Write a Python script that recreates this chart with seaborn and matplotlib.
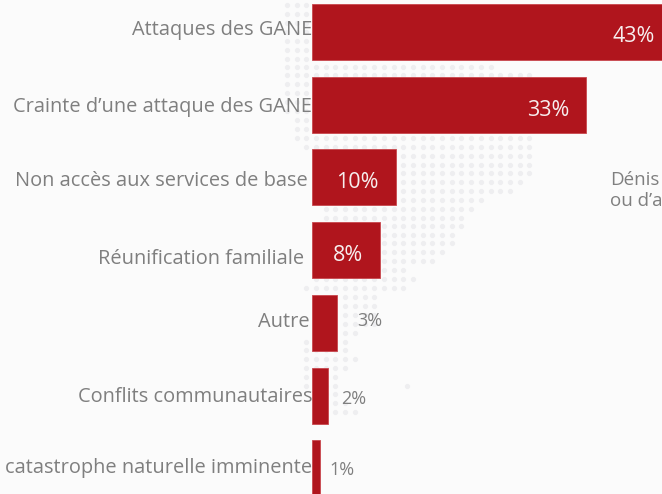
import numpy as np
import pandas as pd
import matplotlib
matplotlib.use('Agg')
import matplotlib.pyplot as plt
import seaborn as sns

categories = ['Attaques des GANE', 'Crainte d’une attaque des GANE',
              'Non accès aux services de base', 'Réunification familiale',
              'Autre', 'Conflits communautaires',
              'catastrophe naturelle imminente']
values = [43.4, 33, 10.1, 8.2, 3, 1.9, 1]
value_labels = ['43%', '33%', '10%', '8%', '3%', '2%', '1%']

# background dot map, one row = y, left, right in pixels
map_rows = [(5, 285, 312), (14, 285, 312), (23, 285, 312), (32, 285, 312), (41, 285, 312),
            (50, 285, 312), (59, 285, 312), (67, 285, 498), (75, 285, 535),
            (84, 285, 312), (93, 285, 312), (102, 285, 312), (111, 285, 312),
            (120, 290, 312), (129, 290, 312), (138, 296, 537), (147, 305, 537),
            (156, 396, 537), (165, 396, 530), (173, 396, 530), (182, 396, 520),
            (191, 396, 518), (200, 396, 488), (209, 325, 478), (218, 325, 470),
            (226, 380, 468), (235, 380, 460), (243, 380, 460), (252, 380, 450),
            (261, 380, 438), (270, 380, 410), (279, 316, 420), (288, 306, 410),
            (297, 337, 380), (306, 337, 380), (315, 337, 380), (324, 337, 378),
            (333, 337, 360), (342, 305, 350), (350, 298, 350), (359, 298, 360),
            (368, 298, 352), (377, 298, 340), (386, 298, 340), (394, 320, 340),
            (403, 330, 345), (412, 335, 360)]
map_extra = [(407, 386)]

bar_color = '#b0151d'
text_color = '#7f7f7f'
bg_color = '#fbfbfb'
dot_color = '#eeeef0'
plt.rcParams['font.family'] = ['Open Sans', 'DejaVu Sans']

fig = plt.figure(figsize=(6.62, 4.94), dpi=100, facecolor=bg_color)

# pixel axes for the dots
bg = fig.add_axes([0, 0, 1, 1])
bg.set_xlim(0, 662)
bg.set_ylim(494, 0)
bg.axis('off')
for y, left, right in map_rows:
    xs = np.arange(left + (316 - left) % 9.7, right + 1, 9.7)
    bg.scatter(xs, np.full(len(xs), y), s=14, marker='o', color=dot_color, linewidths=0)
for x, y in map_extra:
    bg.scatter([x], [y], s=14, marker='o', color=dot_color, linewidths=0)

ax = fig.add_axes([0, 0, 1, 1])
ax.patch.set_alpha(0)
px_per_pct = 8.3
pitch = 72.7
df = pd.DataFrame({'cat': categories, 'val': values})
sns.barplot(data=df, y='cat', x='val', color=bar_color, saturation=1, width=56 / pitch,
            edgecolor='#c8474d', linewidth=0.6, ax=ax)
ax.set_xlim(-312 / px_per_pct, 350 / px_per_pct)
ax.set_ylim((494 - 32) / pitch, -32 / pitch)
ax.axis('off')

# offsets of the labels, in pixels
cat_gap = [0, 0, 4, 8, 2, 0, 0]
cat_dy = [-2, 2, 4, 9, -1, 1, 0]
val_dx = [-17, -16, -17, -17, 20, 13, 9]
val_dy = [4, 6, 5, 5, -2, 3, 2]

for i, (cat, val, lab) in enumerate(zip(categories, values, value_labels)):
    ax.annotate(cat, (0, i), xytext=(-cat_gap[i] * 0.72, -cat_dy[i] * 0.72),
                textcoords='offset points', ha='right', va='center',
                fontsize=14.4, color=text_color, annotation_clip=False)
    inside = val > 5
    ax.annotate(lab, (val, i), xytext=(val_dx[i] * 0.72, -val_dy[i] * 0.72),
                textcoords='offset points', ha='right' if inside else 'left', va='center',
                fontsize=15.5 if inside else 13, color='#f7eeee' if inside else text_color,
                annotation_clip=False)

fig.text(610 / 662, 1 - 180 / 494, 'Dénis', color=text_color, fontsize=13.5, va='center')
fig.text(610 / 662, 1 - 201 / 494, 'ou d’a', color=text_color, fontsize=13.5, va='center')

fig.savefig('out.png', dpi=100, facecolor=bg_color)
